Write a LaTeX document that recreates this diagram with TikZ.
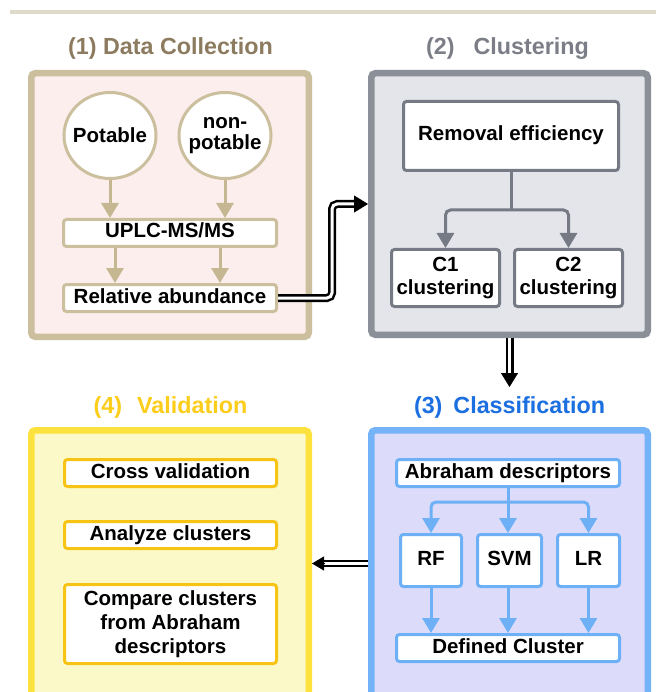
\documentclass[tikz,border=0pt]{standalone}
\usepackage{fontspec}
\setmainfont{Liberation Sans}
\usetikzlibrary{arrows.meta,shapes.geometric,calc}
\definecolor{rulec}{HTML}{DEDBCA}
\definecolor{tanB}{HTML}{CBBF9E}
\definecolor{tanA}{HTML}{C4B792}
\definecolor{pinkF}{HTML}{FDEEEE}
\definecolor{brownT}{HTML}{8C7B5F}
\definecolor{greyT}{HTML}{7B7E86}
\definecolor{greyB}{HTML}{8B8F98}
\definecolor{greyF}{HTML}{E3E5EA}
\definecolor{greyI}{HTML}{767A84}
\definecolor{blueT}{HTML}{1B6FE0}
\definecolor{blueB}{HTML}{74B3F8}
\definecolor{blueF}{HTML}{DCDCFA}
\definecolor{blueI}{HTML}{6DB0F6}
\definecolor{yelT}{HTML}{FCCD1A}
\definecolor{yelB}{HTML}{FDE23E}
\definecolor{yelF}{HTML}{FBF9C7}
\definecolor{yelI}{HTML}{F7C415}
\tikzset{
  title/.style={font=\fontsize{23.3}{26}\selectfont\bfseries, anchor=base, inner sep=0},
  panel/.style={draw, line width=6.5pt, rounded corners=4pt, inner sep=0},
  inbox/.style={draw, line width=3pt, rounded corners=3pt, fill=white, inner sep=0,
    font=\fontsize{20.5}{22}\selectfont\bfseries, text=black, text height=14pt, text depth=4pt},
  inml/.style={draw, line width=3pt, rounded corners=3pt, fill=white, inner sep=0,
    font=\fontsize{20.5}{23}\selectfont\bfseries, text=black, align=center},
  ell/.style={ellipse, draw=tanB, line width=3pt, fill=white, inner sep=0,
    minimum width=92pt, minimum height=86pt},
  txt/.style={font=\fontsize{20.5}{21.5}\selectfont\bfseries, text=black, align=center, inner sep=0},
  arrT/.style={draw=tanA, line width=3pt, -{Triangle[width=17pt,length=15pt]}},
  arrG/.style={draw=greyI, line width=3pt, rounded corners=5pt, -{Triangle[width=17pt,length=15pt]}},
  lineG/.style={draw=greyI, line width=3pt},
  arrB/.style={draw=blueI, line width=3pt, rounded corners=5pt, -{Triangle[width=17pt,length=15pt]}},
  lineB/.style={draw=blueI, line width=3pt},
  dbl/.style={draw=black, line width=2.5pt, double=white, double distance=3pt, rounded corners=5pt},
  dblthin/.style={draw=black, line width=1.8pt, double=white, double distance=2.5pt},
  tipK/.style={draw=black, line width=1pt, -{Triangle[width=17pt,length=14pt]}},
  tipKs/.style={draw=black, line width=1pt, -{Triangle[width=14pt,length=12pt]}}
}
\begin{document}
\begin{tikzpicture}[x=1pt,y=-1pt]
\useasboundingbox (0,0) rectangle (656,692);
\clip (0,0) rectangle (656,692);
\fill[white] (0,0) rectangle (656,692);
\draw[rulec, line width=4pt] (10,12) -- (656,12);

% titles
\node[title, text=brownT] (t1) at (170.5,55) {(1) Data Collection};
\node[title, text=greyT] (t2) at (507.5,55) {(2)\hspace*{19pt}Clustering};
\node[title, text=blueT] (t3) at (509.5,413) {(3)\hspace*{11pt}Classification};
\node[title, text=yelT] (t4) at (170.5,413) {(4)\hspace*{15pt}Validation};

% panels
\node[panel, draw=tanB, fill=pinkF, minimum width=277.5pt, minimum height=263.5pt] (p1) at (170,205) {};
\node[panel, draw=greyB, fill=greyF, minimum width=276.5pt, minimum height=261.5pt] (p2) at (509.5,204) {};
\node[panel, draw=blueB, fill=blueF, minimum width=276.5pt, minimum height=266.5pt] (p3) at (509.5,563.5) {};
\node[panel, draw=yelB, fill=yelF, minimum width=277.5pt, minimum height=266.5pt] (p4) at (170,563.5) {};

% panel 1
\node[ell] (pot) at (110,135.5) {};
\node[txt] (potT) at (pot) {Potable};
\node[ell] (npot) at (225,135.5) {};
\node[txt] (npotT) at (npot) {non-\\potable};
\node[inbox, draw=tanB, minimum width=213pt, minimum height=27pt] (uplc) at (170,233) {UPLC-MS/MS};
\node[inbox, draw=tanB, minimum width=213pt, minimum height=27pt] (rab) at (170,298) {Relative abundance};
\draw[arrT] (pot.south) -- (pot.south |- uplc.north);
\draw[arrT] (npot.south) -- (npot.south |- uplc.north);
\draw[arrT] ($(uplc.south)+(-55,0)$) -- ($(rab.north)+(-55,0)$);
\draw[arrT] ($(uplc.south)+(50,0)$) -- ($(rab.north)+(50,0)$);

% panel 2
\node[inbox, draw=greyI, minimum width=215pt, minimum height=69pt] (remo) at (511,136) {Removal efficiency};
\node[inml, draw=greyI, minimum width=108pt, minimum height=57pt] (c1) at (445.5,278) {C1\\clustering};
\node[inml, draw=greyI, minimum width=108pt, minimum height=57pt] (c2) at (568.5,278) {C2\\clustering};
\coordinate (br2) at (511,210);
\draw[lineG] (remo.south) -- (br2);
\draw[arrG] (br2) -| (c1.north);
\draw[arrG] (br2) -| (c2.north);

% panel 3
\node[inbox, draw=blueI, minimum width=223pt, minimum height=27pt] (abr) at (508,473) {Abraham descriptors};
\node[inbox, draw=blueI, minimum width=61pt, minimum height=52pt] (rf) at (431,560.5) {RF};
\node[inbox, draw=blueI, minimum width=64pt, minimum height=52pt] (svm) at (509.5,560.5) {SVM};
\node[inbox, draw=blueI, minimum width=62pt, minimum height=52pt] (lr) at (588.5,560.5) {LR};
\node[inbox, draw=blueI, minimum width=223pt, minimum height=27pt] (def) at (508,648) {Defined Cluster};
\coordinate (br3) at (508,502);
\draw[lineB] (abr.south) -- (br3);
\draw[arrB] (br3) -| (rf.north);
\draw[arrB] (br3) -- (br3 |- svm.north);
\draw[arrB] (br3) -| (lr.north);
\draw[arrB] (rf.south) -- (rf.south |- def.north);
\draw[arrB] (br3 |- svm.south) -- (br3 |- def.north);
\draw[arrB] (lr.south) -- (lr.south |- def.north);

% panel 4
\node[inbox, draw=yelI, minimum width=212pt, minimum height=27pt] (cv) at (170.5,473) {Cross validation};
\node[inbox, draw=yelI, minimum width=212pt, minimum height=27pt] (an) at (170.5,535) {Analyze clusters};
\node[inml, draw=yelI, minimum width=212pt, minimum height=79pt, font=\fontsize{20.5}{24}\selectfont\bfseries] (cmp) at (170.5,624) {Compare clusters\\from Abraham\\descriptors};

% double arrows
\coordinate (turnA) at (332,204);
\coordinate (tipA) at ($(p2.west)+(-14,0)$);
\draw[dbl] (rab.east) -| (turnA) -- (tipA);
\draw[tipK] (tipA) -- (p2.west);

\coordinate (endB) at ($(p2.south)+(0,49)$);
\coordinate (tipB) at ($(endB)+(0,-13)$);
\draw[dbl] (p2.south) -- (tipB);
\draw[tipK] (tipB) -- (endB);

\coordinate (tipC) at ($(p4.east)+(12,0)$);
\draw[dblthin] (p3.west) -- (tipC);
\draw[tipKs] (tipC) -- (p4.east);
\end{tikzpicture}
\end{document}
